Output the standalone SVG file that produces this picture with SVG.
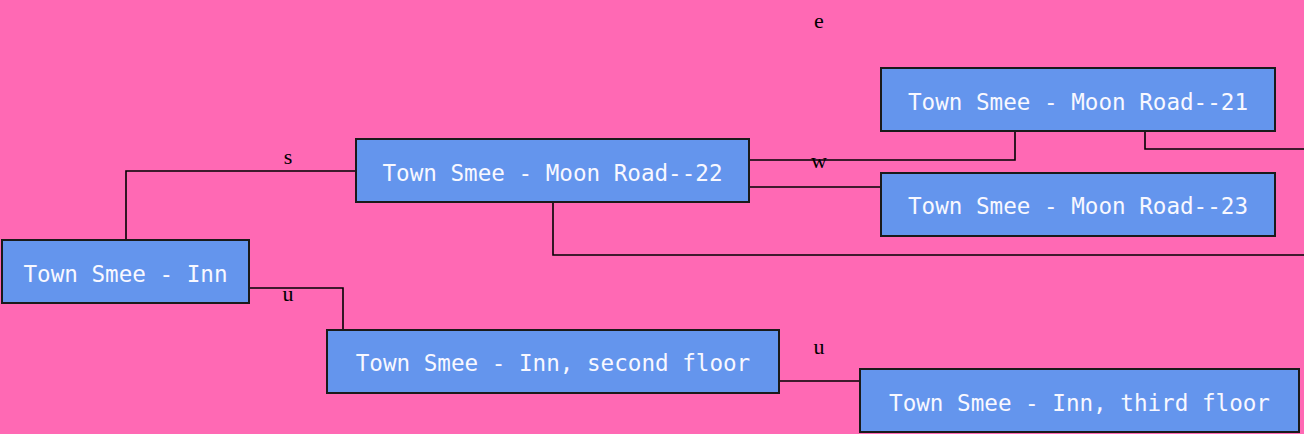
<svg xmlns="http://www.w3.org/2000/svg" width="1304" height="434" viewBox="0 0 1304 434">
<style>
.box{fill:#6495ED;stroke:#1a1a1a;stroke-width:2}
.nt{font-family:"DejaVu Sans Mono",monospace;font-size:22.6px;fill:#F8F8FF;text-anchor:middle}
.el{fill:none;stroke:#000;stroke-width:1.6}
.lb{font-family:"Liberation Serif",serif;font-size:22px;fill:#000;text-anchor:middle}
</style>
<rect width="1304" height="434" fill="#FF69B4"/>
<g id="connectors">
<polyline class="el" points="126,240 126,171 356,171"/>
<polyline class="el" points="249,288 343,288 343,330"/>
<polyline class="el" points="750,160 1015,160 1015,131"/>
<polyline class="el" points="750,187 881,187"/>
<polyline class="el" points="1145,131 1145,149 1304,149"/>
<polyline class="el" points="553,203 553,255 1304,255"/>
<polyline class="el" points="779,381 860,381"/>
<text class="lb" x="288" y="164">s</text>
<text class="lb" x="288" y="301">u</text>
<text class="lb" x="819" y="168">w</text>
<text class="lb" x="819" y="28">e</text>
<text class="lb" x="819" y="354">u</text>
</g>
<g id="inn">
<rect class="box" x="2" y="240" width="247" height="63"/>
<text class="nt" x="125.5" y="282">Town Smee - Inn</text>
</g>
<g id="road22">
<rect class="box" x="356" y="139" width="393" height="63"/>
<text class="nt" x="552.5" y="181">Town Smee - Moon Road--22</text>
</g>
<g id="road21">
<rect class="box" x="881" y="68" width="394" height="63"/>
<text class="nt" x="1078" y="110">Town Smee - Moon Road--21</text>
</g>
<g id="road23">
<rect class="box" x="881" y="173" width="394" height="63"/>
<text class="nt" x="1078" y="214">Town Smee - Moon Road--23</text>
</g>
<g id="inn2">
<rect class="box" x="327" y="330" width="452" height="63"/>
<text class="nt" x="553" y="371">Town Smee - Inn, second floor</text>
</g>
<g id="inn3">
<rect class="box" x="860" y="369" width="439" height="63"/>
<text class="nt" x="1079.5" y="411">Town Smee - Inn, third floor</text>
</g>
</svg>
